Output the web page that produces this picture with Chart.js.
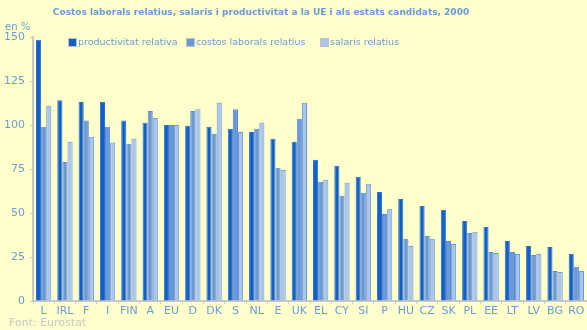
<!DOCTYPE html>
<html>
<head>
<meta charset="utf-8">
<script src="https://cdn.jsdelivr.net/npm/chart.js@4/dist/chart.umd.min.js"></script>
<style>
html,body{margin:0;padding:0;background:#ffffcc;}
#wrap{position:relative;width:587px;height:330px;}
</style>
</head>
<body>
<div id="wrap"><canvas id="c" width="587" height="330"></canvas></div>
<script>
const title = "Costos laborals relatius, salaris i productivitat a la UE i als estats candidats, 2000";
const unitLabel = "en %";
const sourceLabel = "Font: Eurostat";
const categories = ["L","IRL","F","I","FIN","A","EU","D","DK","S","NL","E","UK","EL","CY","SI","P","HU","CZ","SK","PL","EE","LT","LV","BG","RO"];
const seriesNames = ["productivitat relativa","costos laborals relatius","salaris relatius"];
const productivitat = [148.5,114,113,113,102.6,101.3,100,99.6,99,97.9,96,92.2,90.5,80.2,76.8,70.6,62,58,54,51.8,45.5,42,34.1,31.3,30.7,26.7];
const costos = [99,79,102.6,99,89.4,108,100,108,95,109,97.9,75.7,103.6,67.7,59.8,61.5,49.5,35.3,37,34.1,38.7,27.9,27.9,26.2,17,19.4];
const salaris = [111,90.5,93.3,90,92.2,104,100,109,112.7,96,101.3,74.5,112.7,68.9,67.2,66.6,52.4,31.3,35.3,32.4,39.3,27.3,26.7,26.7,16.5,17];
const yTicks = [0,25,50,75,100,125,150];

const textColor = "#6b9bd8";
const axisColor = "#c8c8c8";
const fills = ["#1060c8","#6c98d8","#aac6ee"];
const borders = ["#2a70d0","#5b8ad4","#6a9ae0"];
const fontFamily = "'DejaVu Sans', Verdana, sans-serif";

const overlay = {
  id: "overlay",
  afterDraw(chart) {
    const ctx = chart.ctx;
    ctx.save();
    ctx.textBaseline = "middle";
    ctx.font = "bold 9px " + fontFamily;
    ctx.fillStyle = textColor;
    ctx.textAlign = "center";
    ctx.fillText(title, 261, 13);
    ctx.font = "10px " + fontFamily;
    ctx.textAlign = "left";
    ctx.fillText(unitLabel, 5, 27);
    ctx.fillStyle = axisColor;
    ctx.font = "11px " + fontFamily;
    ctx.fillText(sourceLabel, 9, 323);
    const starts = [68, 186, 320];
    chart.data.datasets.forEach((ds, i) => {
      const x = starts[i];
      ctx.fillStyle = ds.backgroundColor;
      ctx.fillRect(x, 39, 8, 8);
      ctx.strokeStyle = "#c0c0c0";
      ctx.lineWidth = 1;
      ctx.strokeRect(x + 0.5, 38.5, 8, 8);
      ctx.fillStyle = textColor;
      ctx.font = "9.5px " + fontFamily;
      ctx.fillText(ds.label, x + 10, 43);
    });
    ctx.restore();
  }
};

new Chart(document.getElementById("c"), {
  type: "bar",
  data: {
    labels: categories,
    datasets: [productivitat, costos, salaris].map((d, i) => ({
      label: seriesNames[i],
      data: d,
      backgroundColor: fills[i],
      borderColor: borders[i],
      borderWidth: 1,
      categoryPercentage: 0.72,
      barPercentage: 1.0
    }))
  },
  options: {
    responsive: false,
    animation: false,
    devicePixelRatio: 1,
    layout: { padding: { top: 37, right: 0, left: 0, bottom: 0 } },
    plugins: { legend: { display: false }, title: { display: false }, tooltip: { enabled: false } },
    scales: {
      x: {
        grid: { display: true, drawOnChartArea: false, offset: true, color: axisColor, tickLength: 3 },
        border: { display: true, color: axisColor, width: 2 },
        ticks: { color: textColor, font: { family: fontFamily, size: 11 }, padding: 1, maxRotation: 0, autoSkip: false },
        afterFit(scale) { scale.height = 29; }
      },
      y: {
        min: 0, max: 150,
        afterBuildTicks(scale) { scale.ticks = yTicks.map(v => ({ value: v })); },
        grid: { display: true, drawOnChartArea: false, color: axisColor, tickLength: 3 },
        border: { display: true, color: axisColor, width: 2 },
        ticks: { color: textColor, font: { family: fontFamily, size: 11 }, padding: 5 },
        afterFit(scale) { scale.width = 33; }
      }
    }
  },
  plugins: [overlay]
});
</script>
</body>
</html>
